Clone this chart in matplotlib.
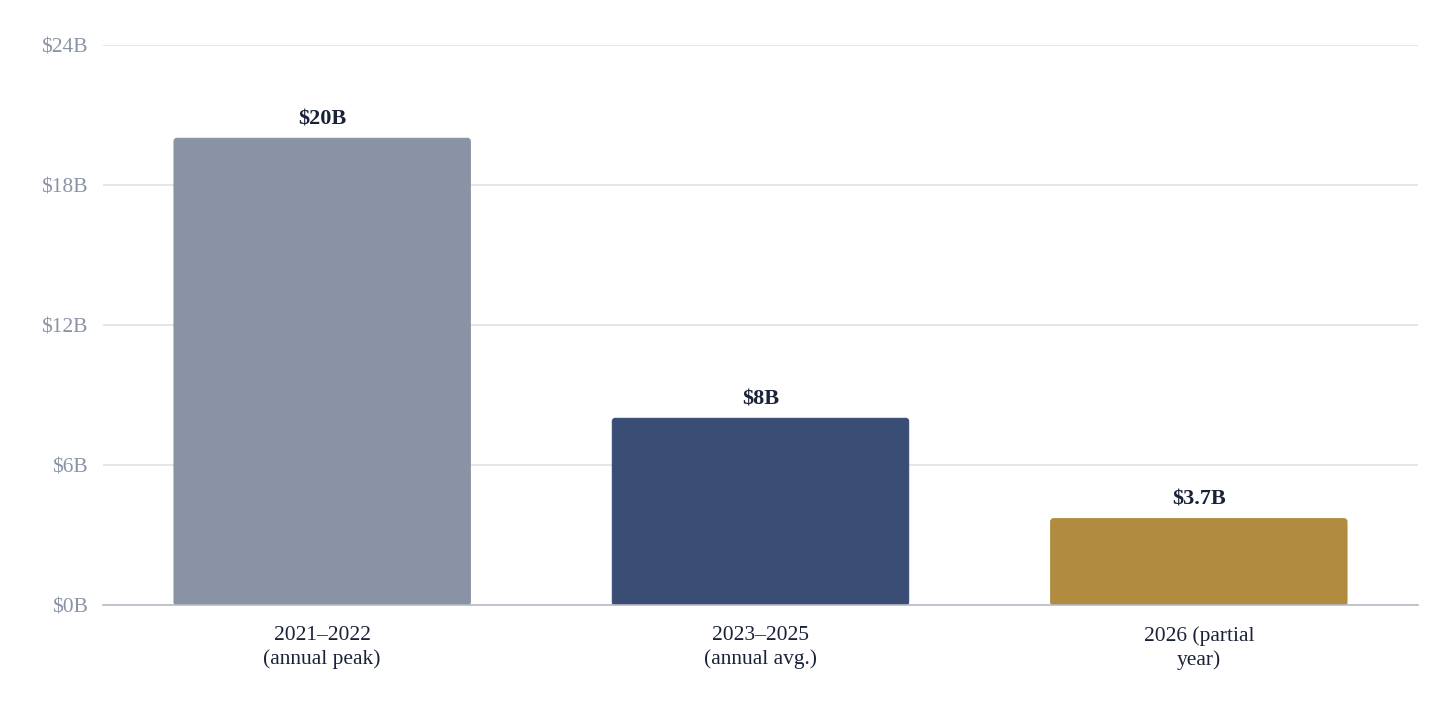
import matplotlib
matplotlib.use("Agg")
from matplotlib import pyplot as plt
from matplotlib.patches import FancyBboxPatch

# chart data
categories = ["2021\u20132022\n(annual peak)", "2023\u20132025\n(annual avg.)", "2026 (partial\nyear)"]
values = [20, 8, 3.7]
value_labels = ["$20B", "$8B", "$3.7B"]
bar_colors = ["#8a93a6", "#3a4d74", "#b08b40"]
y_ticks = [0, 6, 12, 18, 24]
y_tick_labels = ["$0B", "$6B", "$12B", "$18B", "$24B"]

plt.rcParams['font.family'] = ['Liberation Serif', 'DejaVu Serif']

fig = plt.figure(figsize=(14.56, 7.28), dpi=100)
ax = fig.add_axes([103/1456, 1 - 605/728, 1315/1456, 560/728])

x = list(range(len(categories)))
bars = ax.bar(x, values, width=0.676, color=bar_colors, zorder=3)

ax.set_xlim(-0.5, 2.5)
ax.set_ylim(0, 24)

# swap plain rectangles for slightly rounded ones
x_per_px = 3 / 1315
y_per_px = 24 / 560
for b, c in zip(bars, bar_colors):
    b.set_visible(False)
    rp = FancyBboxPatch((b.get_x(), 0), b.get_width(), b.get_height(),
                        boxstyle="round,pad=0,rounding_size=%f" % (3 * x_per_px),
                        mutation_aspect=y_per_px / x_per_px,
                        facecolor=c, edgecolor=c, linewidth=0.8, zorder=3)
    ax.add_patch(rp)

for xi, v, lab in zip(x, values, value_labels):
    ax.annotate(lab, (xi, v), xytext=(0, 6.5), textcoords="offset points",
                ha="center", va="bottom", fontsize=16, fontweight="bold",
                color="#1a2238")

ax.set_yticks(y_ticks)
ax.set_yticklabels(y_tick_labels, fontsize=15.5, color="#8a93a6")
ax.set_xticks(x)
ax.set_xticklabels(categories, fontsize=15.5, color="#1a2238", linespacing=1.3)

ax.grid(axis="y", color="#dfe1e7", linewidth=1.2, zorder=0)
ax.set_axisbelow(True)
for s in ["top", "right", "left"]:
    ax.spines[s].set_visible(False)
ax.spines["bottom"].set_color("#b5bac6")
ax.spines["bottom"].set_linewidth(1.2)
ax.spines["bottom"].set_zorder(4)
ax.tick_params(axis="both", length=0)
ax.tick_params(axis="y", pad=11)
ax.tick_params(axis="x", pad=15)

fig.savefig("out.png", dpi=100, facecolor="white")
